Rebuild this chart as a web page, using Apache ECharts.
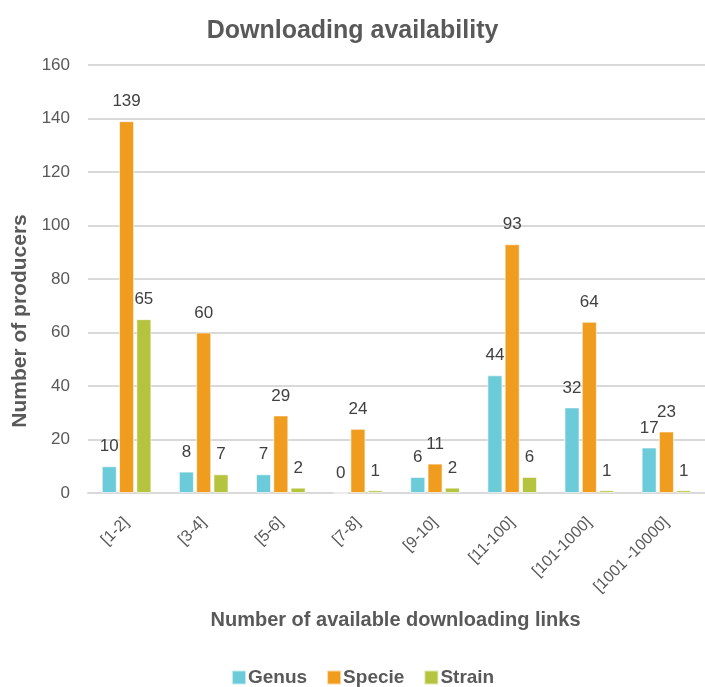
<!DOCTYPE html>
<html>
<head>
<meta charset="utf-8">
<script src="https://cdn.jsdelivr.net/npm/echarts@6/dist/echarts.min.js"></script>
<style>
  html, body { margin: 0; padding: 0; background: #fff; }
  #chart { width: 705px; height: 687px; }
</style>
</head>
<body>
<div id="chart"></div>
<script>
// Link-count buckets and producer counts per taxonomic level
const categories = ['[1-2]', '[3-4]', '[5-6]', '[7-8]', '[9-10]', '[11-100]', '[101-1000]', '[1001 -10000]'];
const genus  = [10, 8, 7, 0, 6, 44, 32, 17];
const specie = [139, 60, 29, 24, 11, 93, 64, 23];
const strain = [65, 7, 2, 1, 2, 6, 1, 1];

const FONT = '"Liberation Sans", Arial, sans-serif';
const chart = echarts.init(document.getElementById('chart'), null, { renderer: 'canvas' });

function barSeries(name, data, color) {
  return {
    name: name,
    type: 'bar',
    data: data,
    barWidth: '19.5%',
    barGap: '15%',
    itemStyle: { color: color, borderColor: 'rgba(255,255,255,0.6)', borderWidth: 1 },
    label: {
      show: true,
      position: 'top',
      distance: 11,
      color: '#404040',
      fontFamily: FONT,
      fontSize: 17
    }
  };
}

chart.setOption({
  animation: false,
  backgroundColor: '#ffffff',
  title: {
    text: 'Downloading availability',
    left: 'center',
    top: 14,
    textStyle: { fontFamily: FONT, fontWeight: 'bold', fontSize: 25, color: '#595959' }
  },
  legend: {
    top: 663,
    left: 226,
    itemWidth: 14,
    itemHeight: 14,
    itemGap: 19,
    icon: 'rect',
    textStyle: { fontFamily: FONT, fontWeight: 'bold', fontSize: 19, color: '#595959', padding: [0, 0, 0, -3] },
    data: ['Genus', 'Specie', 'Strain']
  },
  grid: { left: 88, top: 65, width: 623, height: 428, containLabel: false },
  xAxis: {
    type: 'category',
    data: categories,
    name: 'Number of available downloading links',
    nameLocation: 'middle',
    nameGap: 117,
    nameTextStyle: { fontFamily: FONT, fontWeight: 'bold', fontSize: 20, color: '#595959', padding: [0, 0, 0, -2] },
    axisLine: { lineStyle: { color: '#d9d9d9', width: 2 } },
    axisTick: { show: false },
    axisLabel: { rotate: 45, margin: 27, fontFamily: FONT, fontSize: 16, color: '#595959' }
  },
  yAxis: {
    type: 'value',
    min: 0,
    max: 160,
    interval: 20,
    name: 'Number of producers',
    nameLocation: 'middle',
    nameGap: 50,
    nameTextStyle: { fontFamily: FONT, fontWeight: 'bold', fontSize: 21, color: '#595959', padding: [0, 84, 0, 0] },
    axisLine: { show: false },
    axisTick: { show: false },
    splitLine: { lineStyle: { color: '#d9d9d9', width: 2 } },
    axisLabel: { margin: 18, fontFamily: FONT, fontSize: 17, color: '#595959' }
  },
  series: [
    barSeries('Genus', genus, '#6ccbd9'),
    barSeries('Specie', specie, '#f09c1e'),
    barSeries('Strain', strain, '#b5c43f')
  ]
});
</script>
</body>
</html>
